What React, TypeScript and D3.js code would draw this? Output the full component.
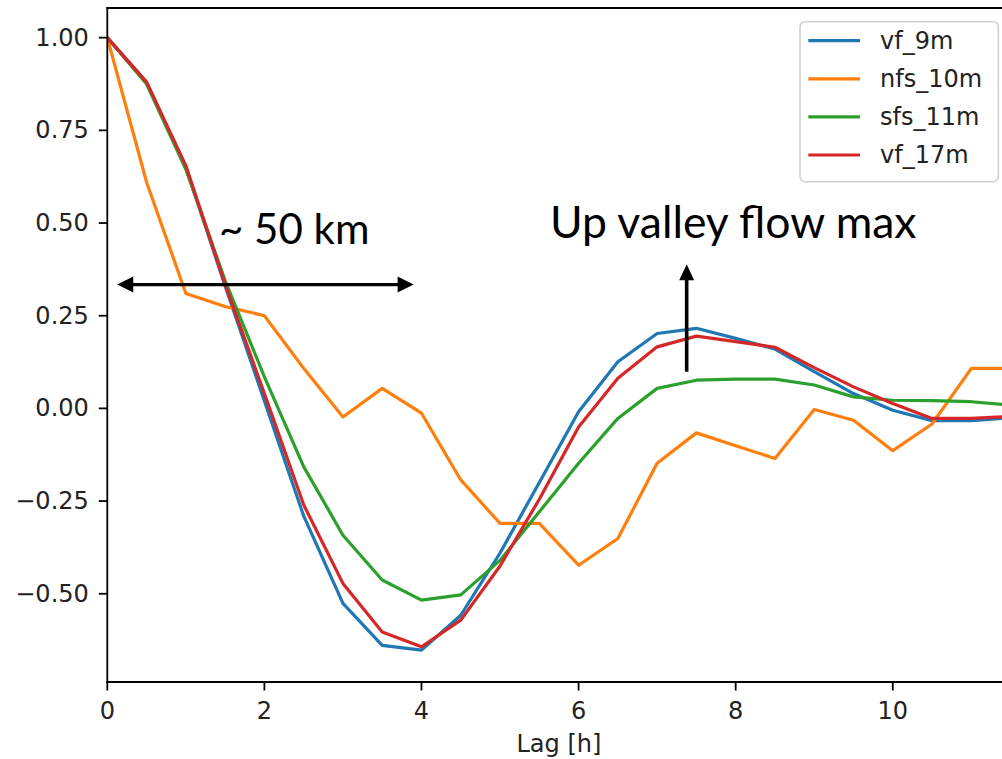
import React from "react";
import * as d3 from "d3";

// Lag in hours (half-hour steps)
const lags = [0, 0.5, 1, 1.5, 2, 2.5, 3, 3.5, 4, 4.5, 5, 5.5, 6, 6.5, 7, 7.5, 8, 8.5, 9, 9.5, 10, 10.5, 11, 11.5];

const vf9m = [1.0, 0.88, 0.65, 0.33, 0.02, -0.29, -0.526, -0.639, -0.652, -0.558, -0.39, -0.2, -0.009, 0.126, 0.202, 0.216, 0.189, 0.16, 0.099, 0.04, -0.005, -0.033, -0.033, -0.025];
const nfs10m = [1.0, 0.61, 0.31, 0.275, 0.25, 0.108, -0.023, 0.054, -0.013, -0.193, -0.31, -0.31, -0.423, -0.351, -0.148, -0.066, -0.101, -0.135, -0.003, -0.032, -0.114, -0.042, 0.108, 0.108];
const sfs11m = [1.0, 0.875, 0.645, 0.345, 0.085, -0.157, -0.342, -0.463, -0.517, -0.503, -0.41, -0.279, -0.148, -0.027, 0.054, 0.076, 0.079, 0.079, 0.063, 0.031, 0.022, 0.021, 0.018, 0.009];
const vf17m = [1.0, 0.88, 0.655, 0.335, 0.04, -0.26, -0.472, -0.603, -0.643, -0.571, -0.425, -0.245, -0.05, 0.081, 0.166, 0.195, 0.18, 0.165, 0.11, 0.058, 0.013, -0.027, -0.027, -0.022];

const seriesNames = ["vf_9m", "nfs_10m", "sfs_11m", "vf_17m"];
const seriesValues = [vf9m, nfs10m, sfs11m, vf17m];
const seriesColors = ["#1f77b4", "#ff7f0e", "#2ca02c", "#d62728"];

const xTicks = [0, 2, 4, 6, 8, 10];
const yTicks = [-0.5, -0.25, 0, 0.25, 0.5, 0.75, 1.0];

const W = 1002;
const H = 759;
const left = 107.3;
const top = 8;
const bottom = 682;
const right = 1010.6;

const tickFont = "'DejaVu Sans', sans-serif";
const tickSize = 24;
const noteFont = "Lato, 'Open Sans', sans-serif";

export default function App() {
  const x = d3.scaleLinear().domain([0, 11.5]).range([left, right]);
  const y = d3.scaleLinear().domain([-0.738, 1.08]).range([bottom, top]);

  const line = d3
    .line<[number, number]>()
    .x((d) => x(d[0]))
    .y((d) => y(d[1]));

  // annotation geometry in data units
  const spanY = 0.334;
  const spanX0 = 0.127;
  const spanX1 = 3.9;
  const upX = 7.376;
  const upY0 = 0.099;
  const upY1 = 0.389;

  const hx0 = x(spanX0);
  const hx1 = x(spanX1);
  const hy = y(spanY);
  const vx = x(upX);
  const vy0 = y(upY0);
  const vy1 = y(upY1);

  const legendX = 800;
  const legendY = 21.7;
  const legendW = 198.3;
  const legendH = 160;
  const rowGap = 38.1;

  return (
    <div style={{ position: "absolute", left: 0, top: 0, width: W, height: H, overflow: "hidden" }}>
      <svg width={W} height={H} style={{ display: "block", background: "#fff" }}>
        <defs>
          <clipPath id="plotArea">
            <rect x={left} y={top} width={right - left} height={bottom - top} />
          </clipPath>
        </defs>

        {/* series lines */}
        <g clipPath="url(#plotArea)">
          {seriesValues.map((vals, i) => (
            <path
              key={seriesNames[i]}
              d={line(lags.map((l, j) => [l, vals[j]]) as [number, number][]) || ""}
              fill="none"
              stroke={seriesColors[i]}
              strokeWidth={3.2}
              strokeLinejoin="round"
              strokeLinecap="square"
            />
          ))}
        </g>

        {/* spines */}
        <line x1={left} x2={left} y1={top} y2={bottom} stroke="#000" strokeWidth={1.8} strokeLinecap="square" />
        <line x1={left} x2={right} y1={bottom} y2={bottom} stroke="#000" strokeWidth={1.8} strokeLinecap="square" />
        <line x1={left} x2={right} y1={top} y2={top} stroke="#000" strokeWidth={1.8} strokeLinecap="square" />
        <line x1={right} x2={right} y1={top} y2={bottom} stroke="#000" strokeWidth={1.8} />

        {/* y axis */}
        {yTicks.map((t) => (
          <g key={"y" + t}>
            <line x1={left - 8.5} x2={left} y1={y(t)} y2={y(t)} stroke="#000" strokeWidth={1.8} />
            <text
              x={left - 18.5}
              y={y(t)}
              textAnchor="end"
              dominantBaseline="central"
              fontFamily={tickFont}
              fontSize={tickSize}
              fill="#222"
            >
              {d3.format(".2f")(t).replace("-", "\u2212")}
            </text>
          </g>
        ))}

        {/* x axis */}
        {xTicks.map((t) => (
          <g key={"x" + t}>
            <line x1={x(t)} x2={x(t)} y1={bottom} y2={bottom + 8.5} stroke="#000" strokeWidth={1.8} />
            <text
              x={x(t)}
              y={719}
              textAnchor="middle"
              fontFamily={tickFont}
              fontSize={tickSize}
              fill="#222"
            >
              {String(t)}
            </text>
          </g>
        ))}
        <text
          x={(left + right) / 2}
          y={752}
          textAnchor="middle"
          fontFamily={tickFont}
          fontSize={tickSize}
          fill="#222"
        >
          Lag [h]
        </text>

        {/* legend */}
        <rect
          x={legendX}
          y={legendY}
          width={legendW}
          height={legendH}
          rx={5}
          fill="#fff"
          fillOpacity={0.8}
          stroke="#d0d0d0"
          strokeWidth={1.6}
        />
        {seriesNames.map((name, i) => {
          const cy = 40.7 + i * rowGap;
          return (
            <g key={"lg" + name}>
              <line x1={808.3} x2={860} y1={cy} y2={cy} stroke={seriesColors[i]} strokeWidth={3.2} />
              <text
                x={880}
                y={cy}
                dominantBaseline="central"
                fontFamily={tickFont}
                fontSize={tickSize}
                fill="#222"
              >
                {name}
              </text>
            </g>
          );
        })}

        {/* distance annotation */}
        <line x1={hx0 + 14} x2={hx1 - 14} y1={hy} y2={hy} stroke="#000" strokeWidth={3.2} />
        <path d={`M${hx0},${hy} L${hx0 + 16},${hy - 8} L${hx0 + 16},${hy + 8} Z`} fill="#000" />
        <path d={`M${hx1},${hy} L${hx1 - 16},${hy - 8} L${hx1 - 16},${hy + 8} Z`} fill="#000" />
        <text x={219} y={244} fontFamily={noteFont} fontSize={42} fill="#000">
          ~ 50 km
        </text>

        {/* up-valley flow annotation */}
        <line x1={vx} x2={vx} y1={vy0} y2={vy1 + 14} stroke="#000" strokeWidth={3.6} />
        <path d={`M${vx},${vy1} L${vx - 7.5},${vy1 + 16} L${vx + 7.5},${vy1 + 16} Z`} fill="#000" />
        <text x={550} y={238} fontFamily={noteFont} fontSize={44.5} fill="#000">
          Up valley flow max
        </text>
      </svg>
    </div>
  );
}
